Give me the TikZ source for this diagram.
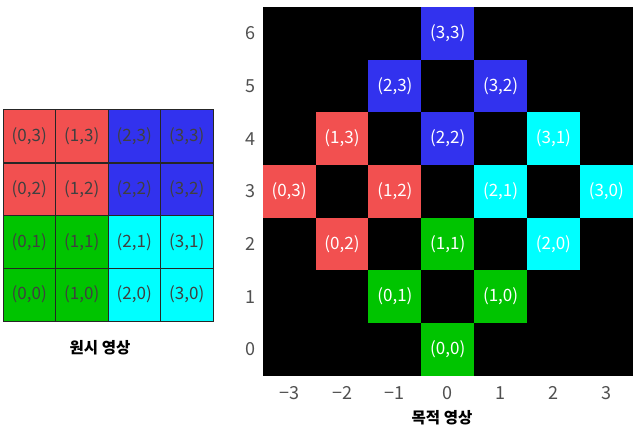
\documentclass[tikz,border=0pt]{standalone}
\usepackage{fontspec}
\setmainfont{Noto Sans CJK KR}
\usepackage{tikz}
\usetikzlibrary{positioning}

\definecolor{cellred}{RGB}{242,80,80}
\definecolor{cellblue}{RGB}{50,50,238}
\definecolor{cellgreen}{RGB}{0,196,0}
\definecolor{cellcyan}{RGB}{0,255,255}
\definecolor{axisgray}{RGB}{80,80,80}

\begin{document}
\begin{tikzpicture}[x=1pt, y=-1pt,
    src/.style={draw=black!85, line width=0.8pt, rectangle, minimum width=52.5pt, minimum height=52.9pt,
      inner sep=0pt, text=black!75, font=\fontsize{17}{20}\selectfont},
    dst/.style={rectangle, minimum width=52.9pt, minimum height=52.7pt, inner sep=0pt,
      text=white, font=\fontsize{17}{20}\selectfont},
    tick/.style={text=axisgray, font=\fontsize{18}{21}\selectfont},
    caption/.style={font=\fontsize{15.5}{18}\selectfont\bfseries}]
  \useasboundingbox (0,0) rectangle (640,434);

  % source image
  \node[src, fill=cellred] at (29.25, 136.3) (s03) {(0,3)};
  \node[src, fill=cellred] at (81.75, 136.3) (s13) {(1,3)};
  \node[src, fill=cellblue] at (134.25, 136.3) (s23) {(2,3)};
  \node[src, fill=cellblue] at (186.75, 136.3) (s33) {(3,3)};
  \node[src, fill=cellred] at (29.25, 189.7) (s02) {(0,2)};
  \node[src, fill=cellred] at (81.75, 189.7) (s12) {(1,2)};
  \node[src, fill=cellblue] at (134.25, 189.7) (s22) {(2,2)};
  \node[src, fill=cellblue] at (186.75, 189.7) (s32) {(3,2)};
  \node[src, fill=cellgreen] at (29.25, 242.2) (s01) {(0,1)};
  \node[src, fill=cellgreen] at (81.75, 242.2) (s11) {(1,1)};
  \node[src, fill=cellcyan] at (134.25, 242.2) (s21) {(2,1)};
  \node[src, fill=cellcyan] at (186.75, 242.2) (s31) {(3,1)};
  \node[src, fill=cellgreen] at (29.25, 294.7) (s00) {(0,0)};
  \node[src, fill=cellgreen] at (81.75, 294.7) (s10) {(1,0)};
  \node[src, fill=cellcyan] at (134.25, 294.7) (s20) {(2,0)};
  \node[src, fill=cellcyan] at (186.75, 294.7) (s30) {(3,0)};
  \node[caption] at (100, 348) (srctitle) {원시 영상};

  % destination image
  \node[fill=black, rectangle, minimum width=370pt, minimum height=369pt, inner sep=0pt] at (447.7, 191.2) (dstback) {};
  \node[dst, fill=cellblue] at (447.7, 33.2) (d33) {(3,3)};
  \node[dst, fill=cellblue] at (394.9, 85.9) (d23) {(2,3)};
  \node[dst, fill=cellblue] at (500.6, 85.9) (d32) {(3,2)};
  \node[dst, fill=cellred] at (342.0, 138.6) (d13) {(1,3)};
  \node[dst, fill=cellblue] at (447.7, 138.6) (d22) {(2,2)};
  \node[dst, fill=cellcyan] at (553.4, 138.6) (d31) {(3,1)};
  \node[dst, fill=cellred] at (289.1, 191.3) (d03) {(0,3)};
  \node[dst, fill=cellred] at (394.9, 191.3) (d12) {(1,2)};
  \node[dst, fill=cellcyan] at (500.6, 191.3) (d21) {(2,1)};
  \node[dst, fill=cellcyan] at (606.3, 191.3) (d30) {(3,0)};
  \node[dst, fill=cellred] at (342.0, 244.0) (d02) {(0,2)};
  \node[dst, fill=cellgreen] at (447.7, 244.0) (d11) {(1,1)};
  \node[dst, fill=cellcyan] at (553.4, 244.0) (d20) {(2,0)};
  \node[dst, fill=cellgreen] at (394.9, 296.7) (d01) {(0,1)};
  \node[dst, fill=cellgreen] at (500.6, 296.7) (d10) {(1,0)};
  \node[dst, fill=cellgreen] at (447.7, 349.4) (d00) {(0,0)};

  % axes
  \node[tick] at (250, 33.2) (y6) {6};
  \node[tick] at (250, 85.9) (y5) {5};
  \node[tick] at (250, 138.6) (y4) {4};
  \node[tick] at (250, 191.3) (y3) {3};
  \node[tick] at (250, 244.0) (y2) {2};
  \node[tick] at (250, 296.7) (y1) {1};
  \node[tick] at (250, 349.4) (y0) {0};
  \node[tick] at (289.1, 393) (xm3) {−3};
  \node[tick] at (342.0, 393) (xm2) {−2};
  \node[tick] at (394.9, 393) (xm1) {−1};
  \node[tick] at (447.7, 393) (x0) {0};
  \node[tick] at (500.6, 393) (x1) {1};
  \node[tick] at (553.4, 393) (x2) {2};
  \node[tick] at (606.3, 393) (x3) {3};
  \node[caption] at (442, 418) (dsttitle) {목적 영상};
\end{tikzpicture}
\end{document}
